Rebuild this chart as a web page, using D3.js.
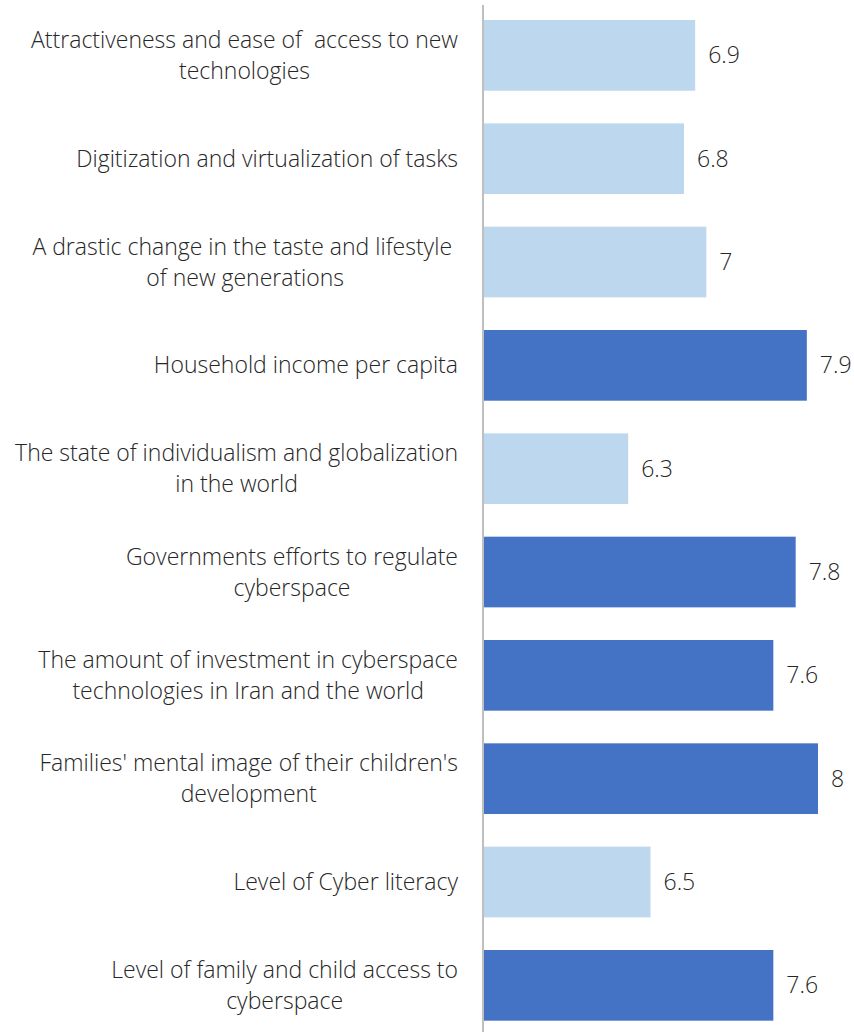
<!DOCTYPE html>
<html>
<head>
<meta charset="utf-8">
<script src="https://cdn.jsdelivr.net/npm/d3@7"></script>
<style>
  html, body { margin: 0; padding: 0; background: #fff; }
  svg { display: block; }
  .cat { font-family: "Open Sans", sans-serif; font-weight: 300; font-size: 23px; fill: #262626; white-space: pre; }
  .val { font-family: "Open Sans", sans-serif; font-weight: 300; font-size: 23px; fill: #262626; }
</style>
</head>
<body>
<svg id="chart" width="854" height="1032"></svg>
<script>
// category labels, wrapped the way the original chart wraps them
const categories = [
  ["Attractiveness and ease of  access to new", "technologies"],
  ["Digitization and virtualization of tasks"],
  ["A drastic change in the taste and lifestyle ", "of new generations"],
  ["Household income per capita"],
  ["The state of individualism and globalization", "in the world"],
  ["Governments efforts to regulate", "cyberspace"],
  ["The amount of investment in cyberspace", "technologies in Iran and the world"],
  ["Families' mental image of their children's", "development"],
  ["Level of Cyber literacy"],
  ["Level of family and child access to", "cyberspace"]
];
const values = [6.9, 6.8, 7, 7.9, 6.3, 7.8, 7.6, 8, 6.5, 7.6];
// which bars are drawn in the darker shade
const highlighted = [false, false, false, true, false, true, true, true, false, true];

const svg = d3.select("#chart");
const keys = categories.map((c, i) => i);

const x = d3.scaleLinear()
  .domain([5, 8])
  .range([483, 818]);

const y = d3.scaleBand()
  .domain(keys)
  .range([3.7, 1037])
  .paddingInner(0.316)
  .paddingOuter(0.158);

// bars
svg.selectAll(".bar")
  .data(keys)
  .enter()
  .append("rect")
  .attr("class", "bar")
  .attr("x", x(5))
  .attr("y", i => y(i))
  .attr("width", i => x(values[i]) - x(5))
  .attr("height", y.bandwidth())
  .attr("fill", i => highlighted[i] ? "#4472c4" : "#bdd7ee");

// vertical axis line
svg.append("line")
  .attr("x1", x(5))
  .attr("x2", x(5))
  .attr("y1", 5)
  .attr("y2", 1032)
  .attr("stroke", "#bfbfbf")
  .attr("stroke-width", 2);

// value labels
svg.selectAll(".val")
  .data(keys)
  .enter()
  .append("text")
  .attr("class", "val")
  .attr("x", i => x(values[i]) + 13)
  .attr("y", i => y(i) + y.bandwidth() / 2)
  .attr("dy", "0.35em")
  .text(i => values[i]);

// category labels: block right-aligned at the axis, lines centered inside it
const labelRight = 458;
const lineH = 31;
svg.selectAll(".cat")
  .data(keys)
  .enter()
  .append("text")
  .attr("class", "cat")
  .attr("text-anchor", "middle")
  .each(function(i) {
    const t = d3.select(this);
    const lines = categories[i];
    const cy = y(i) + y.bandwidth() / 2;
    lines.forEach((ln, k) => {
      t.append("tspan")
        .attr("y", cy + (k - (lines.length - 1) / 2) * lineH)
        .attr("dy", "0.35em")
        .text(ln);
    });
    let w = 0;
    t.selectAll("tspan").each(function() { w = Math.max(w, this.getComputedTextLength()); });
    t.selectAll("tspan").attr("x", labelRight - w / 2);
  });
</script>
</body>
</html>
